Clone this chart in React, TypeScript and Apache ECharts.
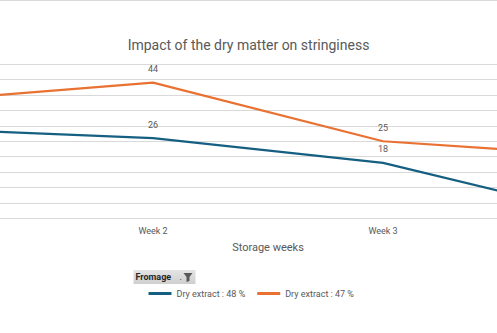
import React, { useEffect, useRef } from "react";
import * as echarts from "echarts";

const categories = ["Week 1", "Week 2", "Week 3", "Week 4"];
const series48 = [29, 26, 18, 0];
const series47 = [38, 44, 25, 20];
const seriesNames = ["Dry extract : 48 %", "Dry extract : 47 %"];
const titleText = "Impact of the dry matter on stringiness";
const axisName = "Storage weeks";
const filterLabel = "Fromage";

const FONT = "Roboto";
const SHIFT = 192.5; // the full chart is wider than the visible window
const FULL_W = 920;

// categories whose marks fall inside the visible window
const visibleIdx = [1, 2];

export default function App() {
  const ref = useRef<HTMLDivElement>(null);
  useEffect(() => {
    if (!ref.current) return;
    const chart = echarts.init(ref.current, undefined, { renderer: "svg" });
    const labelStyle = {
      show: true,
      position: "top",
      distance: 9,
      color: "#595959",
      fontSize: 9,
      fontFamily: FONT,
    };
    const toData = (arr: number[]) =>
      arr.map((v, i) => ({
        value: v,
        label: { show: visibleIdx.indexOf(i) >= 0 },
      }));
    chart.setOption({
      animation: false,
      backgroundColor: "#ffffff",
      textStyle: { fontFamily: FONT },
      title: {
        text: titleText,
        left: 243 + SHIFT,
        textAlign: "center",
        top: 33,
        textStyle: { fontSize: 14, fontWeight: "normal", color: "#595959", fontFamily: FONT },
      },
      grid: { left: 0, right: 0, top: 64, bottom: 114.5, containLabel: false },
      xAxis: {
        type: "category",
        data: categories,
        boundaryGap: true,
        axisLine: { show: true, lineStyle: { color: "#d9d9d9", width: 1 } },
        axisTick: { show: false },
        axisLabel: {
          color: "#595959",
          fontSize: 9,
          margin: 8,
          fontFamily: FONT,
          interval: (i: number) => visibleIdx.indexOf(i) >= 0,
        },
        name: axisName,
        nameLocation: "middle",
        nameGap: 23,
        nameTextStyle: { color: "#595959", fontSize: 11, fontFamily: FONT },
      },
      yAxis: {
        type: "value",
        min: 0,
        max: 50,
        interval: 5,
        axisLine: { show: false },
        axisTick: { show: false },
        axisLabel: { show: false },
        splitLine: { lineStyle: { color: "#d9d9d9", width: 1 } },
      },
      legend: {
        left: 148 + SHIFT,
        top: 289,
        padding: 0,
        itemGap: 12,
        itemWidth: 23,
        itemHeight: 3,
        icon: "rect",
        textStyle: { color: "#595959", fontSize: 9, fontFamily: FONT },
        data: seriesNames,
      },
      series: [
        {
          name: seriesNames[0],
          type: "line",
          data: toData(series48),
          symbol: "circle",
          symbolSize: 0,
          showSymbol: true,
          lineStyle: { color: "#156082", width: 2.25 },
          itemStyle: { color: "#156082" },
          label: labelStyle,
        },
        {
          name: seriesNames[1],
          type: "line",
          data: toData(series47),
          symbol: "circle",
          symbolSize: 0,
          showSymbol: true,
          lineStyle: { color: "#E97132", width: 2.25 },
          itemStyle: { color: "#E97132" },
          label: labelStyle,
        },
      ],
      graphic: [
        {
          type: "line",
          shape: { x1: 0, y1: 0.5, x2: FULL_W, y2: 0.5 },
          style: { stroke: "#d9d9d9", lineWidth: 1 },
        },
        {
          type: "group",
          left: 133 + SHIFT,
          top: 270,
          children: [
            {
              type: "rect",
              shape: { x: 0, y: 0, width: 62, height: 14 },
              style: {
                fill: new echarts.graphic.LinearGradient(0, 0, 0, 1, [
                  { offset: 0, color: "#e4e4e4" },
                  { offset: 1, color: "#cfcfcf" },
                ]),
              },
            },
            {
              type: "text",
              x: 2,
              y: 7,
              style: {
                text: filterLabel,
                fontSize: 9,
                fontWeight: "bold",
                fill: "#262626",
                fontFamily: FONT,
                verticalAlign: "middle",
              },
            },
            {
              type: "text",
              x: 46,
              y: 7,
              style: { text: ".", fontSize: 9, fill: "#262626", fontFamily: FONT, verticalAlign: "middle" },
            },
            {
              type: "polygon",
              shape: { points: [[50, 3], [59, 3], [56, 7], [56, 11], [53, 12], [53, 7]] },
              style: { fill: "#595959" },
            },
          ],
        },
      ],
    });
    return () => chart.dispose();
  }, []);
  return (
    <div
      style={{ position: "absolute", left: 0, top: 0, width: 497, height: 333, overflow: "hidden" }}
    >
      <div
        ref={ref}
        style={{ position: "absolute", left: -SHIFT, top: 0, width: FULL_W, height: 333 }}
      />
    </div>
  );
}
